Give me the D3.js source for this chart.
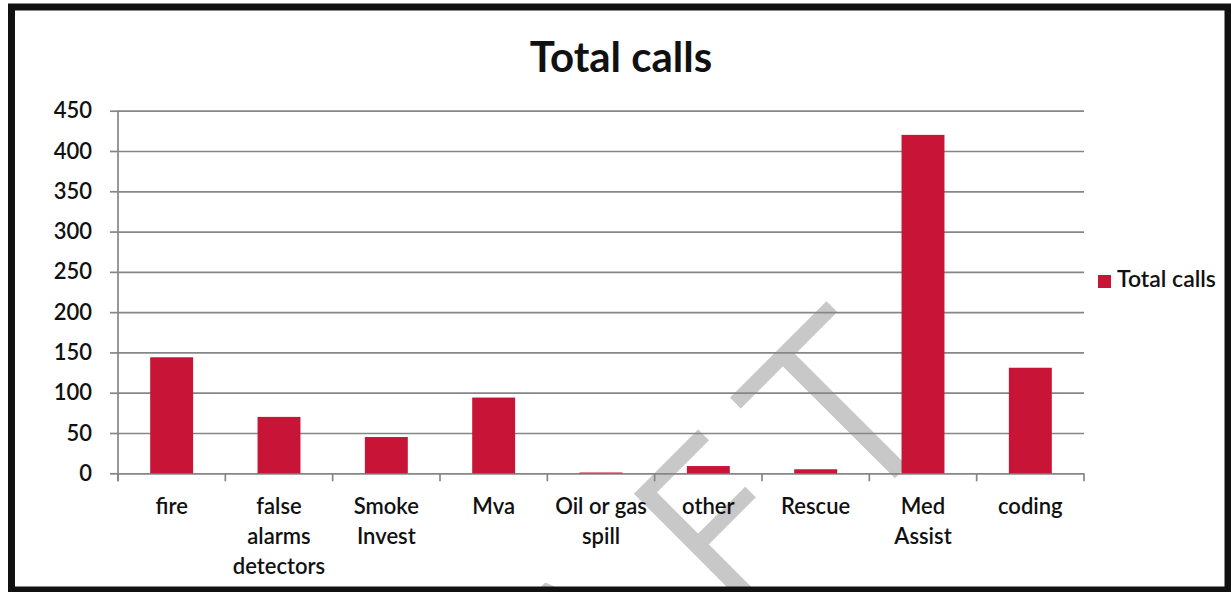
<!DOCTYPE html>
<html><head><meta charset="utf-8">
<script src="https://cdn.jsdelivr.net/npm/d3@7"></script>
<style>html,body{margin:0;padding:0;background:#fff;} svg{display:block;}</style>
</head><body>
<svg id="chart" width="1231" height="592"></svg>
<script>
const categories = ["fire","false alarms detectors","Smoke Invest","Mva","Oil or gas spill","other","Rescue","Med Assist","coding"];
const totalCalls = [144,70,45,94,1,9,5,420,131];
const yTicks = [0,50,100,150,200,250,300,350,400,450];
const chartTitle = "Total calls";
const seriesName = "Total calls";
const watermarkText = "DRAFT";

const W = 1231, H = 592;
const FONT = "Lato, 'Open Sans', sans-serif";
const GRID = "#868686";
const BAR = "#C81436";
const plot = {left:118, right:1084, top:110.7, bottom:473.3};

const svg = d3.select("#chart");
svg.append("rect").attr("width",W).attr("height",H).attr("fill","#fff");

// scanned watermark (rotated 45°, mostly running off the page)
const wmSize = 230;
const wm = svg.append("text").text(watermarkText)
  .attr("transform","translate(684.5,684.5) rotate(-45)")
  .attr("x",0).attr("y",0)
  .attr("font-family","'DejaVu Sans', sans-serif").attr("font-weight",200)
  .attr("font-size",wmSize).attr("fill","#c8c8c8")
  .attr("stroke","#c8c8c8").attr("stroke-width",6).attr("stroke-linejoin","miter");
const p = d3.range(5).map(i => wm.node().getStartPositionOfChar(i).x);
const fStart = 74, tStart = 303 - 0.305*wmSize;
const extra = tStart - fStart - (p[4]-p[3]);
const xs = p.map((v,i) => i >= 3 ? (i===3 ? fStart : tStart) : fStart - (p[3]-v) - extra*(3-i));
wm.attr("x", xs.join(" "));

const x = d3.scaleBand().domain(categories).range([plot.left,plot.right])
  .paddingInner(0.6).paddingOuter(0.3);
const y = d3.scaleLinear().domain([0,450]).range([plot.bottom,plot.top]);

// gridlines
const grid = svg.append("g").attr("transform",`translate(${plot.left},0)`)
  .call(d3.axisLeft(y).tickValues(yTicks).tickSize(-(plot.right-plot.left)).tickFormat(""));
grid.select(".domain").remove();
grid.selectAll("line").attr("stroke",GRID).attr("stroke-width",1.7);

// y axis ticks + labels
const ya = svg.append("g").attr("transform",`translate(${plot.left},0)`)
  .call(d3.axisLeft(y).tickValues(yTicks).tickSize(8).tickPadding(18).tickFormat(d3.format("d")));
ya.select(".domain").remove();
ya.selectAll("line").attr("stroke",GRID).attr("stroke-width",1.7);
ya.selectAll("text").attr("font-family",FONT).attr("font-weight",600).attr("font-size",22).attr("fill","#111");

// y axis line
svg.append("line").attr("x1",plot.left).attr("x2",plot.left)
  .attr("y1",y(450)).attr("y2",y(0)+8).attr("stroke",GRID).attr("stroke-width",1.7);

// x axis boundary ticks
const bounds = d3.range(categories.length+1).map(i => plot.left + i*x.step());
svg.append("g").selectAll("line").data(bounds).join("line")
  .attr("x1",d=>d).attr("x2",d=>d).attr("y1",y(0)).attr("y2",y(0)+8)
  .attr("stroke",GRID).attr("stroke-width",1.7);

// bars
svg.append("g").selectAll("rect").data(categories).join("rect")
  .attr("x",c=>x(c)).attr("width",x.bandwidth())
  .attr("y",(c,i)=>y(totalCalls[i]))
  .attr("height",(c,i)=>y(0)-y(totalCalls[i]))
  .attr("fill",BAR);

// category labels (wrapped)
const lab = svg.append("g").attr("font-family",FONT).attr("font-weight",600).attr("font-size",22).attr("fill","#111").attr("text-anchor","middle");
const maxW = 98;
categories.forEach(c => {
  const t = lab.append("text").attr("x",x(c)+x.bandwidth()/2).attr("y",514);
  const words = c.split(" ");
  let lines = [], cur = [];
  const probe = lab.append("text");
  words.forEach(w => {
    const test = cur.concat([w]).join(" ");
    probe.text(test);
    if (cur.length && probe.node().getComputedTextLength() > maxW) { lines.push(cur.join(" ")); cur=[w]; }
    else cur.push(w);
  });
  lines.push(cur.join(" "));
  probe.remove();
  lines.forEach((ln,k) => t.append("tspan").attr("x",x(c)+x.bandwidth()/2).attr("dy",k?30:0).text(ln));
});

// title
svg.append("text").text(chartTitle).attr("x",621).attr("y",72)
  .attr("text-anchor","middle").attr("font-family",FONT).attr("font-weight",700)
  .attr("font-size",42).attr("fill","#111");

// legend
svg.append("rect").attr("x",1098).attr("y",275).attr("width",13).attr("height",13).attr("fill",BAR);
svg.append("text").text(seriesName).attr("x",1117).attr("y",287)
  .attr("font-family",FONT).attr("font-weight",600).attr("font-size",23).attr("fill","#111");

// frame
svg.append("rect").attr("x",11.5).attr("y",7).attr("width",1216.5).attr("height",583)
  .attr("fill","none").attr("stroke","#111").attr("stroke-width",7);
</script>
</body></html>
